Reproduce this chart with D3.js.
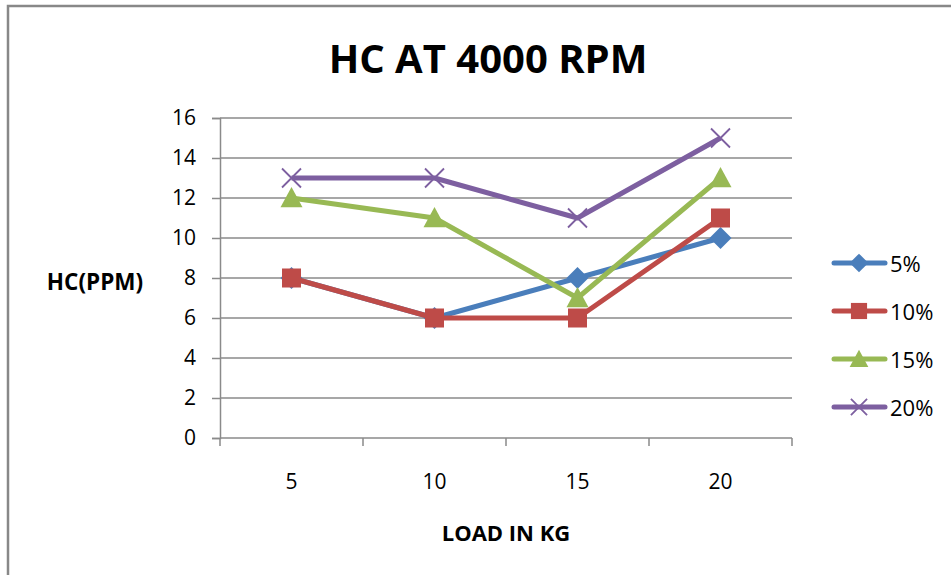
<!DOCTYPE html>
<html>
<head>
<meta charset="utf-8">
<script src="https://cdn.jsdelivr.net/npm/d3@7"></script>
<style>
  html, body { margin: 0; padding: 0; background: #fff; }
  svg { display: block; font-family: "Open Sans", "Lato", sans-serif; }
</style>
</head>
<body>
<svg id="chart" width="951" height="575"></svg>
<script>
// Load categories (kg) and HC readings (ppm) for each blend
const categories = ["5", "10", "15", "20"];
const seriesNames = ["5%", "10%", "15%", "20%"];
const hc5 = [8, 6, 8, 10];
const hc10 = [8, 6, 6, 11];
const hc15 = [12, 11, 7, 13];
const hc20 = [13, 13, 11, 15];
const yTicks = [0, 2, 4, 6, 8, 10, 12, 14, 16];

const colors = ["#4a7ebb", "#be4b48", "#98b954", "#7d5fa0"];
const symbols = ["diamond", "square", "triangle", "cross"];
const series = [hc5, hc10, hc15, hc20].map((v, i) => ({ name: seriesNames[i], values: v, color: colors[i], symbol: symbols[i] }));

const svg = d3.select("#chart");
const plotL = 220, plotR = 792, plotT = 118, plotB = 438;

// chart frame
svg.append("rect").attr("x", 8).attr("y", 6).attr("width", 960).attr("height", 600)
  .attr("fill", "none").attr("stroke", "#888").attr("stroke-width", 2.5);

const x = d3.scaleBand().domain(categories).range([plotL, plotR]);
const y = d3.scaleLinear().domain([0, 16]).range([plotB, plotT]);

// horizontal gridlines
svg.append("g").selectAll("line").data(yTicks.filter(t => t > 0)).join("line")
  .attr("x1", plotL).attr("x2", plotR)
  .attr("y1", d => y(d)).attr("y2", d => y(d))
  .attr("stroke", "#8a8a8a").attr("stroke-width", 1.5);

// y axis
const yAxis = svg.append("g").attr("transform", `translate(${plotL},0)`)
  .call(d3.axisLeft(y).tickValues(yTicks).tickSize(8).tickPadding(16));
yAxis.select(".domain").attr("stroke", "#8a8a8a").attr("stroke-width", 1.5);
yAxis.selectAll(".tick line").attr("stroke", "#8a8a8a").attr("stroke-width", 1.5);
yAxis.selectAll("text").attr("font-size", 21).attr("fill", "#000").attr("font-family", "Open Sans");

// x axis with ticks on category boundaries
const xg = svg.append("g").attr("transform", `translate(0,${plotB})`);
xg.append("line").attr("x1", plotL).attr("x2", plotR).attr("stroke", "#8a8a8a").attr("stroke-width", 1.5);
const bounds = categories.map(c => x(c)).concat([plotR]);
xg.selectAll("line.tk").data(bounds).join("line").attr("class", "tk")
  .attr("x1", d => d).attr("x2", d => d).attr("y1", 0).attr("y2", 8)
  .attr("stroke", "#8a8a8a").attr("stroke-width", 1.5);
xg.selectAll("text").data(categories).join("text")
  .attr("x", d => x(d) + x.bandwidth() / 2).attr("y", 51)
  .attr("text-anchor", "middle").attr("font-size", 21).attr("fill", "#000").text(d => d);

const cx = d => x(d) + x.bandwidth() / 2;

function marker(g, sym, color, size) {
  if (sym === "diamond") {
    const s = size * 0.55;
    g.append("path").attr("d", `M0,${-s}L${s},0L0,${s}L${-s},0Z`).attr("fill", color);
  } else if (sym === "square") {
    const s = size * 0.5;
    g.append("rect").attr("x", -s).attr("y", -s).attr("width", 2 * s).attr("height", 2 * s).attr("fill", color);
  } else if (sym === "triangle") {
    const s = size * 0.55;
    g.append("path").attr("d", `M0,${-s}L${s},${s * 0.85}L${-s},${s * 0.85}Z`).attr("fill", color);
  } else {
    const s = size * 0.5;
    g.append("path").attr("d", `M${-s},${-s}L${s},${s}M${-s},${s}L${s},${-s}`)
      .attr("stroke", color).attr("stroke-width", 1.8).attr("fill", "none");
  }
}

const line = d3.line().x((d, i) => cx(categories[i])).y(d => y(d));
const markerSize = [20, 19, 20, 19];

series.forEach((s, si) => {
  svg.append("path").datum(s.values).attr("d", line)
    .attr("fill", "none").attr("stroke", s.color).attr("stroke-width", 5)
    .attr("stroke-linejoin", "round");
  s.values.forEach((v, i) => {
    const g = svg.append("g").attr("transform", `translate(${cx(categories[i])},${y(v)})`);
    marker(g, s.symbol, s.color, markerSize[si]);
  });
});

// title and axis titles
svg.append("text").attr("x", 488).attr("y", 73).attr("text-anchor", "middle")
  .attr("font-size", 40).attr("font-weight", "bold").attr("fill", "#000").text("HC AT 4000 RPM");
svg.append("text").attr("x", 95).attr("y", 290).attr("text-anchor", "middle")
  .attr("font-size", 22.5).attr("font-weight", "bold").attr("fill", "#000").text("HC(PPM)");
svg.append("text").attr("x", 506).attr("y", 541).attr("text-anchor", "middle")
  .attr("font-size", 22).attr("font-weight", "bold").attr("fill", "#000").text("LOAD IN KG");

// legend
const legend = svg.append("g");
series.forEach((s, i) => {
  const ly = 263 + i * 48;
  legend.append("line").attr("x1", 834).attr("x2", 885).attr("y1", ly).attr("y2", ly)
    .attr("stroke", s.color).attr("stroke-width", 5).attr("stroke-linecap", "round");
  const g = legend.append("g").attr("transform", `translate(859,${ly})`);
  marker(g, s.symbol, s.color, markerSize[i] * 0.85);
  legend.append("text").attr("x", 890).attr("y", ly + 9).attr("font-size", 22).attr("fill", "#000").text(s.name);
});
</script>
</body>
</html>
